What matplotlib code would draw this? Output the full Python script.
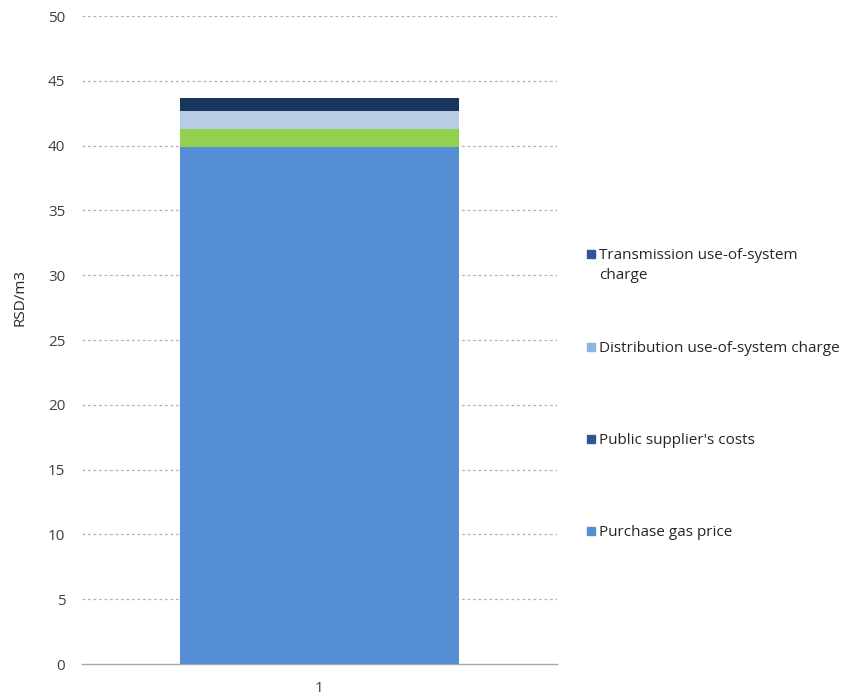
import matplotlib.pyplot as plt
from matplotlib.patches import Rectangle

# Cost components of the gas price (RSD/m3), bottom to top
components = ["Purchase gas price", "Public supplier's costs",
              "Distribution use-of-system charge", "Transmission use-of-system charge"]
values = [39.9, 1.35, 1.4, 1.06]
bar_colors = ["#558ED5", "#92D050", "#B9CDE5", "#17375E"]

# legend entries, top to bottom, with their swatch colours
legend_labels = ["Transmission use-of-system\ncharge", "Distribution use-of-system charge",
                 "Public supplier's costs", "Purchase gas price"]
legend_colors = ["#2F5597", "#8EB4E3", "#2F5597", "#558ED5"]
legend_y = [254, 347, 439, 531]  # pixel rows of first text line

categories = [1]
yticks = list(range(0, 55, 5))

plt.rcParams["font.family"] = ["Open Sans", "DejaVu Sans"]

W, H = 847, 700
fig = plt.figure(figsize=(W / 100, H / 100), dpi=100)
ax = fig.add_axes([82 / W, 1 - 664 / H, (557 - 82) / W, (664 - 16) / H])

bottom = 0.0
for val, col in zip(values, bar_colors):
    ax.bar(categories, [val], width=0.587, bottom=bottom, color=col, zorder=3)
    bottom += val

ax.set_xlim(0.5, 1.5)
ax.set_ylim(0, 50)
ax.set_yticks(yticks)
ax.set_xticks(categories)
ax.set_xticklabels([str(c) for c in categories])
ax.tick_params(axis="both", length=0, labelsize=11, colors="#404040")
ax.tick_params(axis="y", pad=12)
ax.tick_params(axis="x", pad=12)

for y in yticks[1:]:
    ax.axhline(y, color="#B3B3B3", linestyle=(0, (2.2, 2.2)), linewidth=0.9, zorder=1)

for side in ["top", "right", "left"]:
    ax.spines[side].set_visible(False)
ax.spines["bottom"].set_color("#A6A6A6")
ax.spines["bottom"].set_linewidth(1.0)

fig.text(20 / W, 1 - 297 / H, "RSD/m3", rotation=90, ha="center", va="center",
         fontsize=11, color="#262626")

# legend drawn at fixed positions on the right
for lab, col, py in zip(legend_labels, legend_colors, legend_y):
    fig.patches.append(Rectangle((587 / W, 1 - (py + 4) / H), 8 / W, 8 / H,
                                 transform=fig.transFigure, color=col))
    fig.text(599 / W, 1 - (py - 6) / H, lab, ha="left", va="top", fontsize=11,
             color="#262626", linespacing=1.45)

fig.savefig("out.png", dpi=100)
